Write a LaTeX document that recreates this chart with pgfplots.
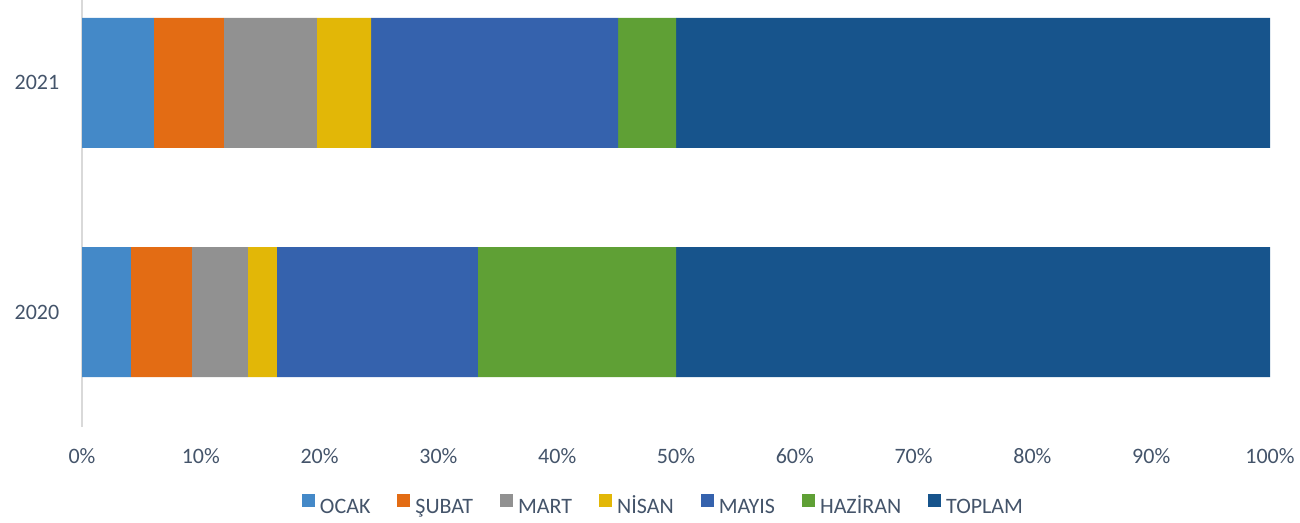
\documentclass[border=0pt]{standalone}
\usepackage{pgfplots}
\pgfplotsset{compat=1.18}
\usepackage{fontspec}
\setmainfont{Carlito}
\definecolor{cOcak}{HTML}{4489C8}
\definecolor{cSubat}{HTML}{E36C14}
\definecolor{cMart}{HTML}{919191}
\definecolor{cNisan}{HTML}{E2B707}
\definecolor{cMayis}{HTML}{3562AD}
\definecolor{cHaziran}{HTML}{5FA035}
\definecolor{cToplam}{HTML}{17548C}
\definecolor{txt}{HTML}{44546A}
\definecolor{axl}{HTML}{D9D9D9}
\begin{document}
\fontsize{11bp}{13bp}\selectfont
\begin{tikzpicture}
\begin{axis}[
  scale only axis,
  width=594bp, height=213.5bp,
  xbar stacked,
  bar width=65bp,
  xmin=0, xmax=100,
  ymin=-0.502, ymax=1.362,
  ytick={0,1}, yticklabels={2020,2021},
  xtick={0,10,...,100},
  xticklabel={\pgfmathprintnumber{\tick}\%},
  /pgf/number format/assume math mode=true,
  axis lines*=left,
  x axis line style={draw=none},
  y axis line style={axl, line width=1bp, -},
  major tick length=0pt,
  ticklabel style={font=\fontsize{11bp}{13bp}\selectfont, text=txt},
  xticklabel style={yshift=-7bp},
  yticklabel style={xshift=-7.5bp},
  legend style={at={(axis description cs:0.5,0)}, anchor=center, yshift=-39bp, xshift=-5.5bp,
    draw=none, fill=none, font=\fontsize{11bp}{13bp}\selectfont, text=txt,
    legend columns=-1,
    nodes={text height=7bp, text depth=1bp, inner ysep=0pt, inner xsep=2.5bp},
    /tikz/every even column/.append style={column sep=11bp}},
  legend image code/.code={\fill (0.5bp,0.3bp) rectangle (7bp,6.8bp);},
]
\addplot[fill=cOcak, draw=none] coordinates {(4.12,0) (6.06,1)};
\addplot[fill=cSubat, draw=none] coordinates {(5.13,0) (5.89,1)};
\addplot[fill=cMart, draw=none] coordinates {(4.71,0) (7.83,1)};
\addplot[fill=cNisan, draw=none] coordinates {(2.44,0) (4.55,1)};
\addplot[fill=cMayis, draw=none] coordinates {(16.92,0) (20.79,1)};
\addplot[fill=cHaziran, draw=none] coordinates {(16.68,0) (4.88,1)};
\addplot[fill=cToplam, draw=none] coordinates {(50,0) (50,1)};
\legend{OCAK,ŞUBAT,MART,NİSAN,MAYIS,HAZİRAN,TOPLAM}
\end{axis}
\pgfresetboundingbox
\path (current axis.south west) ++(-41bp,-48bp) rectangle ++(650bp,261.5bp);
\end{tikzpicture}
\end{document}
